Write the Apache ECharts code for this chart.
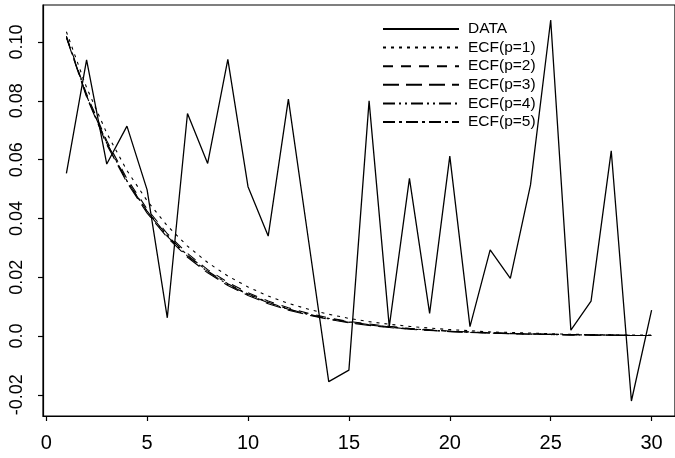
<!DOCTYPE html>
<html>
<head>
<meta charset="utf-8">
<script src="https://cdn.jsdelivr.net/npm/echarts@6/dist/echarts.min.js"></script>
<style>
html,body{margin:0;padding:0;background:#fff;}
#chart{width:675px;height:458px;}
</style>
</head>
<body>
<div id="chart"></div>
<script>
// Lags (x positions)
var lags = [1,2,3,4,5,6,7,8,9,10,11,12,13,14,15,16,17,18,19,20,21,22,23,24,25,26,27,28,29,30];
// Observed data
var dataSeries = [0.0553,0.0939,0.0585,0.0714,0.0497,0.0062,0.0757,0.0587,0.0941,0.0508,
                  0.0340,0.0806,0.0325,-0.0155,-0.0116,0.0800,0.0032,0.0536,0.0077,0.0612,
                  0.0032,0.0293,0.0196,0.0514,0.1075,0.0020,0.0119,0.0630,-0.0221,0.0088];
var ecf1 = [0.1035,0.0845,0.0690,0.0563,0.0460,0.0375,0.0306,0.0250,0.0204,0.0167,
            0.0136,0.0111,0.0091,0.0074,0.0060,0.0049,0.0040,0.0033,0.0027,0.0022,
            0.0018,0.0014,0.0012,0.0010,0.0008,0.0006,0.0005,0.0004,0.0003,0.0003];
var ecf2 = [0.1020,0.0823,0.0664,0.0535,0.0432,0.0348,0.0281,0.0226,0.0183,0.0147,
            0.0119,0.0096,0.0077,0.0062,0.0050,0.0041,0.0033,0.0026,0.0021,0.0017,
            0.0014,0.0011,0.0009,0.0007,0.0006,0.0005,0.0004,0.0003,0.0002,0.0002];
var ecf3 = [0.1015,0.0813,0.0651,0.0522,0.0418,0.0335,0.0268,0.0215,0.0172,0.0138,
            0.0110,0.0088,0.0071,0.0057,0.0045,0.0036,0.0029,0.0023,0.0019,0.0015,
            0.0012,0.0010,0.0008,0.0006,0.0005,0.0004,0.0003,0.0003,0.0002,0.0002];
var ecf4 = [0.1018,0.0817,0.0656,0.0527,0.0423,0.0339,0.0272,0.0219,0.0175,0.0141,
            0.0113,0.0091,0.0073,0.0058,0.0047,0.0038,0.0030,0.0024,0.0020,0.0016,
            0.0013,0.0010,0.0008,0.0007,0.0005,0.0004,0.0003,0.0003,0.0002,0.0002];
var ecf5 = [0.1016,0.0817,0.0657,0.0528,0.0425,0.0342,0.0275,0.0221,0.0178,0.0143,
            0.0115,0.0092,0.0074,0.0060,0.0048,0.0039,0.0031,0.0025,0.0020,0.0016,
            0.0013,0.0011,0.0009,0.0007,0.0006,0.0004,0.0004,0.0003,0.0002,0.0002];
var seriesNames = ["DATA","ECF(p=1)","ECF(p=2)","ECF(p=3)","ECF(p=4)","ECF(p=5)"];
// Tick values and labels
var xTicks = [0,5,10,15,20,25,30];
var xTickLabels = ["0","5","10","15","20","25","30"];
var yTicks = [-0.02,0,0.02,0.04,0.06,0.08,0.10];
var yTickLabels = ["-0.02","0.0","0.02","0.04","0.06","0.08","0.10"];

function pairs(vals){ return lags.map(function(x,i){ return [x, vals[i]]; }); }
function labelFor(ticks, labels, v){
  var best = 0, d = Infinity;
  for (var i=0;i<ticks.length;i++){ var dd=Math.abs(ticks[i]-v); if(dd<d){d=dd;best=i;} }
  return labels[best];
}

var dashes = ['solid',[3,5],[10,8],[16,7],[12,4,2,4,2,4],[12,4,3,4]];
var allVals = [dataSeries, ecf1, ecf2, ecf3, ecf4, ecf5];
var font = '"Liberation Sans", Arial, Helvetica, sans-serif';

var chart = echarts.init(document.getElementById('chart'), null, {renderer:'canvas'});
chart.setOption({
  backgroundColor: '#ffffff',
  animation: false,
  grid: {left: 43, top: 5, width: 638, height: 411, show: true, borderColor: '#000', borderWidth: 1.2, backgroundColor: 'transparent'},
  legend: {
    data: seriesNames,
    orient: 'vertical',
    left: 382, top: 21,
    itemWidth: 76, itemHeight: 12, itemGap: 2.6,
    padding: 0,
    itemStyle: {color: 'rgba(0,0,0,0)', borderWidth: 0, opacity: 0},
    textStyle: {fontFamily: font, fontSize: 15.5, lineHeight: 16, color: '#000', padding: [0,0,0,4]},
    inactiveColor: '#000'
  },
  xAxis: {
    type: 'value', min: -0.16, max: 31.16,
    axisLine: {show: true, onZero: false, lineStyle: {color: '#000', width: 1.2}},
    axisTick: {show: true, length: 5, customValues: xTicks, lineStyle: {color: '#000', width: 1.2}},
    axisLabel: {customValues: xTicks, margin: 17, color: '#000', fontFamily: font, fontSize: 20,
      formatter: function(v){ return labelFor(xTicks, xTickLabels, v); }},
    splitLine: {show: false}
  },
  yAxis: {
    type: 'value', min: -0.0272, max: 0.1126,
    axisLine: {show: true, onZero: false, lineStyle: {color: '#000', width: 1.2}},
    axisTick: {show: true, length: 5, customValues: yTicks, lineStyle: {color: '#000', width: 1.2}},
    axisLabel: {customValues: yTicks, rotate: 90, margin: 17, color: '#000', fontFamily: font, fontSize: 18,
      formatter: function(v){ return labelFor(yTicks, yTickLabels, v); }},
    splitLine: {show: false}
  },
  series: seriesNames.map(function(n, i){
    return {
      name: n, type: 'line', data: pairs(allVals[i]),
      symbol: 'none', showSymbol: false, clip: true,
      lineStyle: {color: '#000', width: i === 0 ? 1.3 : 1.1, type: dashes[i]},
      itemStyle: {color: 'rgba(0,0,0,0)', opacity: 0},
      z: i === 0 ? 3 : 2
    };
  })
});
</script>
</body>
</html>
